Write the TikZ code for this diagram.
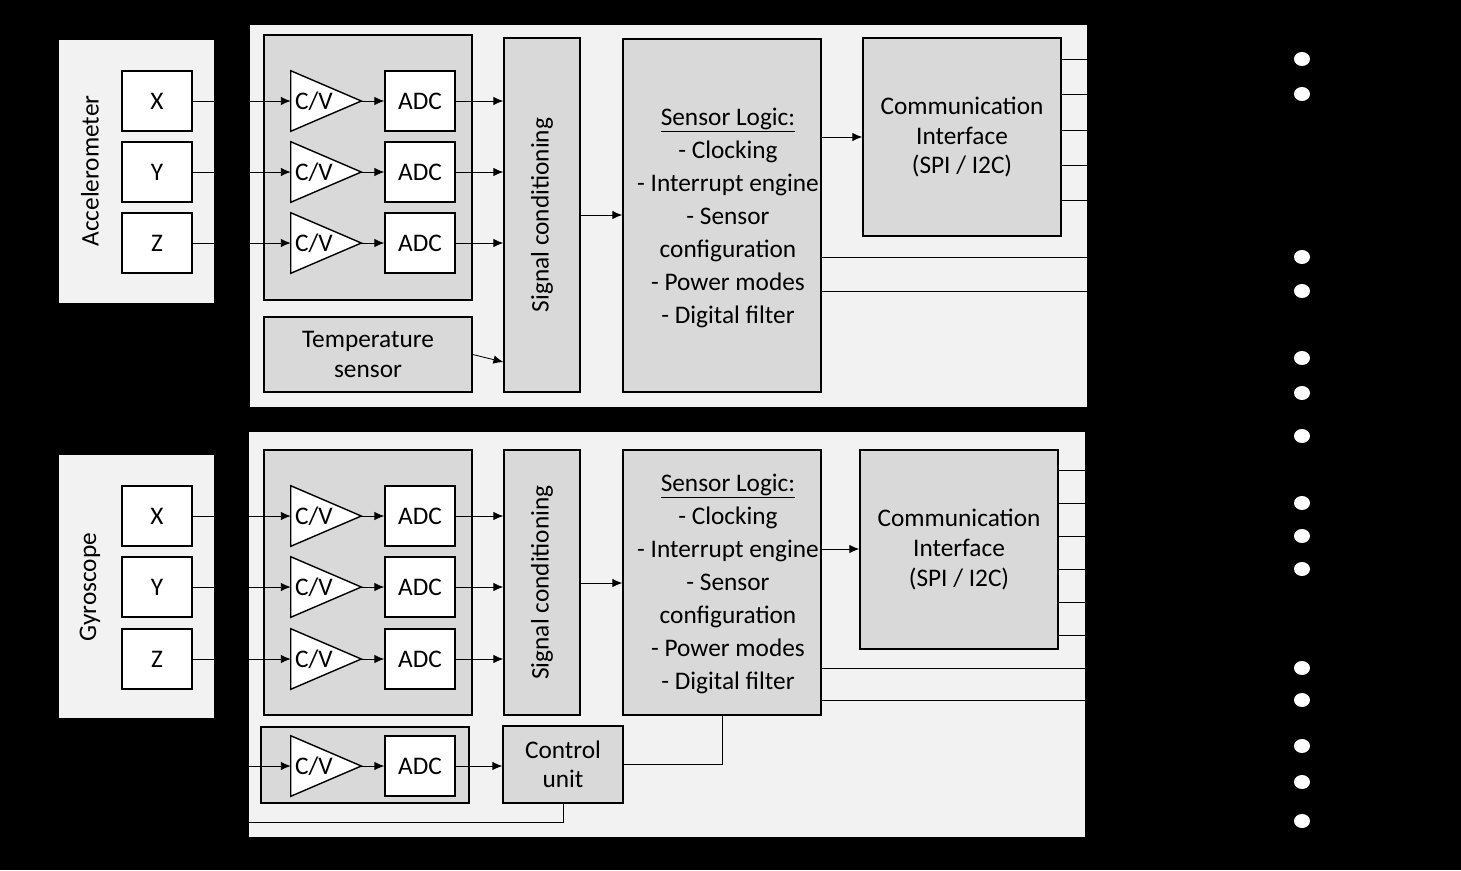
\documentclass[tikz,border=0pt]{standalone}
\usepackage{fontspec}
\setmainfont{Carlito}
\usetikzlibrary{arrows.meta}
\tikzset{
  panel/.style = {fill=panelgray, draw=none},
  blk/.style = {draw, fill=blkgray, line width=1pt, inner sep=0pt},
  wbox/.style = {draw, fill=white, line width=1pt, minimum width=1.75cm, minimum height=1.5cm, inner sep=0pt},
  amp/.style = {minimum width=1.75cm, minimum height=1.5cm, inner sep=0pt},
  sig/.style = {-{Latex[length=7pt,width=6pt]}, line width=0.6pt},
  wire/.style = {line width=0.6pt},
}
\definecolor{panelgray}{RGB}{242,242,242}
\definecolor{blkgray}{RGB}{217,217,217}
\begin{document}
\begin{tikzpicture}[x=0.025cm, y=-0.025cm, font=\fontsize{18}{21}\selectfont]
\fill[black] (0,0) rectangle (1461,870);
\useasboundingbox (0,0) rectangle (1461,870);
% panels
\fill[panelgray] (250,25) rectangle (1087,407);
\fill[panelgray] (249,432) rectangle (1085,837);
\fill[panelgray] (59,40) rectangle (214,303);
\fill[panelgray] (59,455) rectangle (214,718);
\node[rotate=90] at (90,171) {Accelerometer};
\node[rotate=90] at (90,587) {Gyroscope};
% grey groups
\draw[blk] (264,35) rectangle (472,300);
\draw[blk] (264,450) rectangle (472,715);
\draw[blk] (261,727) rectangle (469,803);
\node[blk, minimum width=5.2cm, minimum height=1.875cm, align=center] (temp) at (368,354.5) {Temperature\\sensor};
\node[blk, minimum width=1.9cm, minimum height=8.85cm] (scA) at (542,215) {};
\node[rotate=90] at (542,215) {Signal conditioning};
\node[blk, minimum width=1.9cm, minimum height=6.625cm] (scG) at (542,582.5) {};
\node[rotate=90] at (542,582.5) {Signal conditioning};
\node[blk, minimum width=4.95cm, minimum height=8.825cm] (slA) at (722,215.5) {};
\node[blk, minimum width=4.95cm, minimum height=6.625cm] (slG) at (722,582.5) {};
\node[align=center, font=\fontsize{18}{23.5}\selectfont] at (728,218) {\underline{Sensor Logic:}\\- Clocking\\- Interrupt engine\\- Sensor\\configuration\\- Power modes\\- Digital filter};
\node[align=center, font=\fontsize{18}{23.5}\selectfont] at (728,584) {\underline{Sensor Logic:}\\- Clocking\\- Interrupt engine\\- Sensor\\configuration\\- Power modes\\- Digital filter};
\node[blk, minimum width=4.95cm, minimum height=4.95cm, align=center] (ciA) at (962,137) {Communication\\Interface\\(SPI / I2C)};
\node[blk, minimum width=4.95cm, minimum height=4.975cm, align=center] (ciG) at (959,549.5) {Communication\\Interface\\(SPI / I2C)};
\node[blk, minimum width=3cm, minimum height=1.925cm, align=center] (cu) at (563,764.5) {Control\\unit};
% sensing chains
\foreach \s/\ax/\y in {A/X/101, A/Y/172, A/Z/243, G/X/516, G/Y/587, G/Z/659}{
  \node[wbox] (in\s\ax) at (157,\y) {\ax};
  \node[amp] (cv\s\ax) at (326,\y) {};
  \draw[line width=1pt, fill=white] (cv\s\ax.north west) -- (cv\s\ax.east) -- (cv\s\ax.south west) -- cycle;
  \node[anchor=west, inner sep=0pt] at (cv\s\ax.west) {\,C/V};
  \node[wbox] (adc\s\ax) at (420,\y) {ADC};
  \draw[sig] (in\s\ax.east) -- (cv\s\ax.west);
  \draw[sig] (cv\s\ax.east) -- (adc\s\ax.west);
  \draw[sig] (adc\s\ax.east) -- (sc\s.west |- adc\s\ax.east);
}
\node[amp] (cvC) at (326,766) {};
\draw[line width=1pt, fill=white] (cvC.north west) -- (cvC.east) -- (cvC.south west) -- cycle;
\node[anchor=west, inner sep=0pt] at (cvC.west) {\,C/V};
\node[wbox] (adcC) at (420,766) {ADC};
\coordinate (gin) at (249,766);
\coordinate (gout) at (249,822);
\draw[sig] (gin) -- (cvC.west);
\draw[sig] (cvC.east) -- (adcC.west);
\draw[sig] (adcC.east) -- (cu.west |- adcC.east);
\draw[wire] (cu.east) -| (slG.south);
\draw[wire] (cu.south) |- (gout);
\draw[sig] (temp.east) -- (scA.west |- 0,362);
\draw[sig] (scA.east |- 0,215) -- (slA.west |- 0,215);
\draw[sig] (scG.east |- 0,583) -- (slG.west |- 0,583);
\draw[sig] (slA.east |- 0,137) -- (ciA.west |- 0,137);
\draw[sig] (slG.east |- 0,549) -- (ciG.west |- 0,549);
% outputs
\foreach \y in {59,94,130,165,200}{
  \coordinate (oA\y) at (1087,\y);
  \draw[wire] (ciA.east |- oA\y) -- (oA\y);
}
\foreach \y in {257,291}{
  \coordinate (oA\y) at (1087,\y);
  \draw[wire] (slA.east |- oA\y) -- (oA\y);
}
\foreach \y in {470,503,536,569,602,635}{
  \coordinate (oG\y) at (1085,\y);
  \draw[wire] (ciG.east |- oG\y) -- (oG\y);
}
\foreach \y in {668,700}{
  \coordinate (oG\y) at (1085,\y);
  \draw[wire] (slG.east |- oG\y) -- (oG\y);
}
% pins
\foreach \y in {59,94,257,291,358,393,436,503,536,569,668,700,746,782,821}{
  \fill[white] (1302,\y) ellipse (8 and 7);
}
\end{tikzpicture}
\end{document}
